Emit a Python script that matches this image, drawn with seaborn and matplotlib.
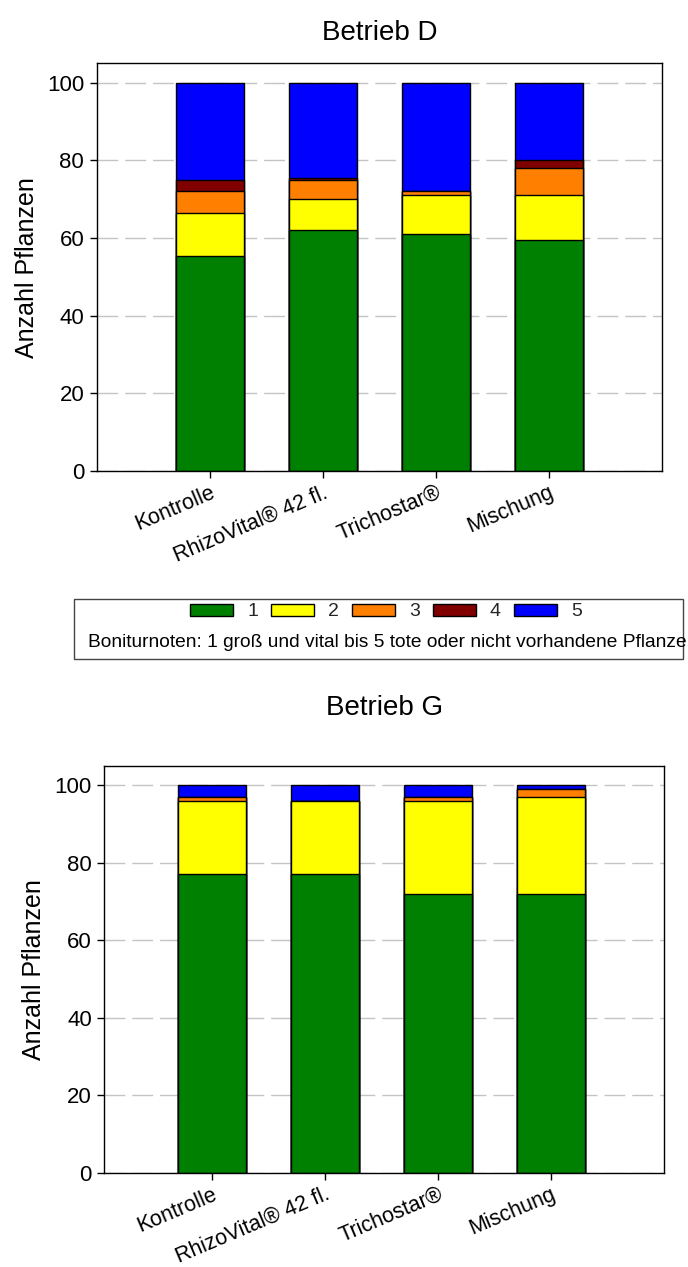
import numpy as np
import pandas as pd
import matplotlib
matplotlib.use("Agg")
import matplotlib.pyplot as plt
import seaborn as sns
from matplotlib.patches import Patch, Rectangle

# ---------------- data ----------------
categories = ["Kontrolle", "RhizoVital® 42 fl.", "Trichostar®", "Mischung"]
grades = ["1", "2", "3", "4", "5"]
grade_colors = ["#008000", "#FFFF00", "#FF8000", "#800000", "#0000FF"]

# Betrieb D
d_grade1 = [55.5, 62.0, 61.0, 59.5]
d_grade2 = [11.0, 8.0, 10.0, 11.5]
d_grade3 = [5.5, 5.0, 1.0, 7.0]
d_grade4 = [3.0, 0.5, 0.0, 2.0]
d_grade5 = [25.0, 24.5, 28.0, 20.0]

# Betrieb G
g_grade1 = [77.0, 77.0, 72.0, 72.0]
g_grade2 = [19.0, 19.0, 24.0, 25.0]
g_grade3 = [1.0, 0.0, 1.0, 2.0]
g_grade4 = [0.0, 0.0, 0.0, 0.0]
g_grade5 = [3.0, 4.0, 3.0, 1.0]

y_ticks = [0, 20, 40, 60, 80, 100]
y_label = "Anzahl Pflanzen"
legend_note = "Boniturnoten: 1 groß und vital bis 5 tote oder nicht vorhandene Pflanze"

# ---------------- style ----------------
sns.set_theme(style="ticks")
plt.rcParams["font.family"] = ["Liberation Sans", "DejaVu Sans"]

W, H = 688, 1267
fig = plt.figure(figsize=(W / 100, H / 100), dpi=100)


def px_axes(left, top, right, bottom):
    return fig.add_axes([left / W, 1 - bottom / H, (right - left) / W, (bottom - top) / H])


def draw_panel(ax, layers, xlim):
    long = []
    for g, vals in zip(grades, layers):
        for c, v in zip(categories, vals):
            long.append({"Variante": c, "Note": g, "Anzahl": v})
    df = pd.DataFrame(long)
    wide = df.pivot(index="Variante", columns="Note", values="Anzahl").loc[categories, grades]
    cum = wide.cumsum(axis=1)
    # draw cumulative totals from the top segment down so the stacks appear
    for g, col in reversed(list(zip(grades, grade_colors))):
        sns.barplot(x=categories, y=cum[g].values, order=categories, color=col,
                    saturation=1, width=0.6, edgecolor="black", linewidth=1,
                    errorbar=None, ax=ax)
    ax.set_xlim(*xlim)
    ax.set_ylim(0, 105)
    ax.set_yticks(y_ticks)
    ax.set_axisbelow(True)
    ax.yaxis.grid(True, color="#c4c4c4", linestyle=(0, (15, 5)), linewidth=1)
    ax.xaxis.grid(False)
    for s in ax.spines.values():
        s.set_visible(True)
        s.set_color("black")
        s.set_linewidth(1)
    ax.tick_params(axis="y", direction="out", length=5, width=1, labelsize=16,
                   left=True, right=False, pad=4, colors="black")
    ax.tick_params(axis="x", direction="out", length=5, width=1, labelsize=15.5,
                   bottom=True, top=False, pad=3, colors="black")
    for lbl in ax.get_xticklabels():
        lbl.set_rotation(23)
        lbl.set_ha("right")
        lbl.set_va("top")
        lbl.set_rotation_mode("anchor")
    ax.set_xlabel("")
    ax.set_ylabel(y_label, fontsize=18, labelpad=6, color="black")


ax1 = px_axes(96.7, 63.3, 662, 471)
draw_panel(ax1, [d_grade1, d_grade2, d_grade3, d_grade4, d_grade5], (-1.0, 4.0))
fig.text((96.7 + 662) / 2 / W, 1 - 40 / H, "Betrieb D", ha="center", va="baseline",
         fontsize=20, color="black")

ax2 = px_axes(104.3, 765.7, 664, 1172.7)
draw_panel(ax2, [g_grade1, g_grade2, g_grade3, g_grade4, g_grade5], (-0.95, 4.0))
fig.text((104.3 + 664) / 2 / W, 1 - 715 / H, "Betrieb G", ha="center", va="baseline",
         fontsize=20, color="black")

# ---------------- legend ----------------
box = Rectangle((74.3 / W, 1 - 659 / H), (683 - 74.3) / W, (659 - 599) / H,
                transform=fig.transFigure, fill=False, edgecolor="#444444",
                linewidth=1)
fig.add_artist(box)
handles = [Patch(facecolor=c, edgecolor="black", linewidth=1, label=g)
           for g, c in zip(grades, grade_colors)]
fig.legend(handles=handles, ncol=5, loc="center", bbox_to_anchor=(386 / W, 1 - 612 / H),
           frameon=False, fontsize=14, handlelength=2.2, handleheight=0.57,
           handletextpad=0.72, columnspacing=0.68, borderpad=0, borderaxespad=0)
fig.text(88 / W, 1 - 647 / H, legend_note, ha="left", va="baseline", fontsize=13.8,
         color="black")

fig.savefig("out.png", dpi=100)
